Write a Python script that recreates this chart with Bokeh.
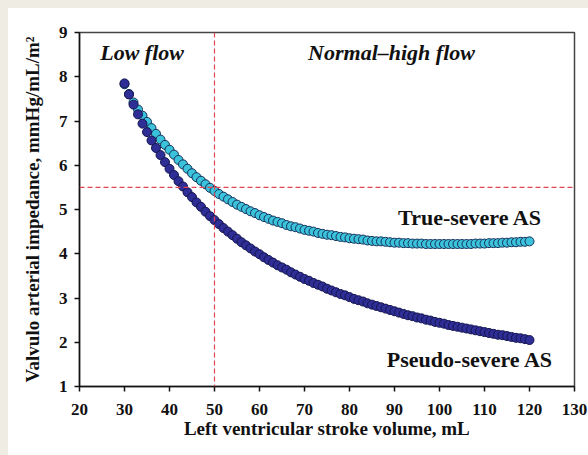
from bokeh.plotting import figure
from bokeh.models import Span, Range1d, FixedTicker, ColumnDataSource
from bokeh.core.properties import value
from bokeh.embed import file_html
from bokeh.resources import INLINE

# ---- data ----
sv = list(range(30, 121))  # left ventricular stroke volume, mL

pseudo_severe = [
    7.85, 7.60, 7.37, 7.15, 6.94, 6.75, 6.56, 6.39, 6.23, 6.07,
    5.92, 5.78, 5.64, 5.52, 5.39, 5.28, 5.16, 5.06, 4.95, 4.85,
    4.76, 4.67, 4.58, 4.50, 4.42, 4.34, 4.26, 4.19, 4.12, 4.05,
    3.99, 3.92, 3.86, 3.80, 3.74, 3.69, 3.64, 3.58, 3.53, 3.48,
    3.43, 3.39, 3.34, 3.30, 3.26, 3.21, 3.17, 3.13, 3.09, 3.06,
    3.02, 2.98, 2.95, 2.92, 2.88, 2.85, 2.82, 2.79, 2.76, 2.73,
    2.70, 2.67, 2.64, 2.61, 2.59, 2.56, 2.54, 2.51, 2.49, 2.46,
    2.44, 2.42, 2.39, 2.37, 2.35, 2.33, 2.31, 2.29, 2.27, 2.25,
    2.23, 2.21, 2.19, 2.17, 2.16, 2.14, 2.12, 2.10, 2.09, 2.07,
    2.05,
]

true_severe = [
    7.83, 7.61, 7.42, 7.26, 7.12, 6.98, 6.84, 6.71, 6.58, 6.46,
    6.35, 6.24, 6.12, 6.02, 5.92, 5.82, 5.73, 5.65, 5.57, 5.49,
    5.42, 5.35, 5.29, 5.23, 5.17, 5.11, 5.06, 5.01, 4.96, 4.92,
    4.87, 4.83, 4.79, 4.75, 4.72, 4.69, 4.65, 4.62, 4.60, 4.57,
    4.54, 4.52, 4.50, 4.47, 4.45, 4.43, 4.42, 4.40, 4.38, 4.37,
    4.35, 4.34, 4.33, 4.32, 4.30, 4.29, 4.28, 4.28, 4.27, 4.26,
    4.25, 4.25, 4.24, 4.24, 4.23, 4.23, 4.23, 4.22, 4.22, 4.22,
    4.22, 4.22, 4.22, 4.22, 4.22, 4.22, 4.22, 4.22, 4.23, 4.23,
    4.23, 4.24, 4.24, 4.24, 4.25, 4.25, 4.26, 4.26, 4.27, 4.27,
    4.28,
]

x_ticks = [20, 30, 40, 50, 60, 70, 80, 90, 100, 110, 120, 130]
y_ticks = [1, 2, 3, 4, 5, 6, 7, 8, 9]

low_flow_cutoff = 50
zva_cutoff = 5.5

region_labels = ["Low flow", "Normal\u2013high flow"]
region_x = [24.6, 70.8]
region_y = [8.54, 8.54]

curve_labels = ["True-severe AS", "Pseudo-severe AS"]
curve_label_x = [90.8, 88.3]
curve_label_y = [4.83, 1.62]

FONT = value("Liberation Serif")

p = figure(width=580, height=447, output_backend="svg", toolbar_location=None,
           x_range=Range1d(20, 130), y_range=Range1d(1, 9),
           min_border_left=71, min_border_right=14, min_border_top=24,
           min_border_bottom=69)

p.background_fill_color = "white"
p.border_fill_color = "white"
p.outline_line_color = "#444444"
p.outline_line_width = 1.5
p.xgrid.visible = False
p.ygrid.visible = False

for ax in (p.xaxis[0], p.yaxis[0]):
    ax.axis_line_color = "#111111"
    ax.axis_line_width = 1.5
    ax.major_tick_line_color = "#111111"
    ax.major_tick_line_width = 1.5
    ax.major_tick_out = 5
    ax.major_tick_in = 0
    ax.minor_tick_line_color = None
    ax.major_label_text_font = "Liberation Serif"
    ax.major_label_text_font_style = "bold"
    ax.major_label_text_font_size = "17px"
    ax.major_label_text_color = "#111111"
    ax.axis_label_text_font = "Liberation Serif"
    ax.axis_label_text_font_style = "bold"
    ax.axis_label_text_font_size = "19px"
    ax.axis_label_text_color = "#111111"

p.xaxis.ticker = FixedTicker(ticks=x_ticks)
p.yaxis.ticker = FixedTicker(ticks=y_ticks)
p.xaxis.axis_label = "Left ventricular stroke volume, mL"
p.yaxis.axis_label = "Valvulo arterial impedance, mmHg/mL/m\u00b2"
p.xaxis.major_label_standoff = 12
p.yaxis.major_label_standoff = 7
p.xaxis.axis_label_standoff = 0
p.yaxis.axis_label_standoff = 13

p.add_layout(Span(location=low_flow_cutoff, dimension="height",
                  line_color="#e04456", line_dash="5 3", line_width=1.2))
p.add_layout(Span(location=zva_cutoff, dimension="width",
                  line_color="#e04456", line_dash="5 3", line_width=1.2))

src_true = ColumnDataSource(dict(x=sv, y=true_severe))
src_pseudo = ColumnDataSource(dict(x=sv, y=pseudo_severe))

p.scatter("x", "y", source=src_true, size=9, fill_color="#3cc3dc",
          line_color="#16305a", line_width=1)
p.scatter("x", "y", source=src_pseudo, size=9, fill_color="#2e2e96",
          line_color="#15154f", line_width=1)

p.text(x=region_x, y=region_y, text=region_labels, text_font=FONT,
       text_font_style="bold italic", text_font_size="22px",
       text_color="#111111", text_baseline="middle", text_align="left")
p.text(x=curve_label_x, y=curve_label_y, text=curve_labels, text_font=FONT,
       text_font_style="bold", text_font_size="22px",
       text_color="#111111", text_baseline="middle", text_align="left")

style = """<style>
html, body {
  background-color: #ffffff;
  background-image: linear-gradient(to bottom, #eeece3 8px, transparent 8px),
                    linear-gradient(to right, #eeece3 8px, transparent 8px);
  background-repeat: no-repeat;
}
body { padding: 8px 0 0 8px; overflow: hidden; }
</style>
</head>"""

html = file_html(p, INLINE)
html = html.replace("</head>", style, 1)
open("out.html", "w").write(html)
